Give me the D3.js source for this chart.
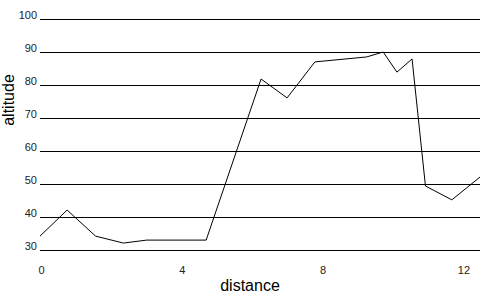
<!DOCTYPE html>
<html>
<head>
<meta charset="utf-8">
<script src="https://cdn.jsdelivr.net/npm/d3@7"></script>
<style>
  body { margin: 0; background: #fff; }
  svg { display: block; font-family: 'Liberation Sans', Arial, sans-serif; }
  .tick text { fill: #222; font-size: 11px; }
  .line { fill: none; stroke: #000; stroke-width: 1; }
</style>
</head>
<body>
<script>
// values
var distance = [0, 0.77, 1.58, 2.37, 3.03, 4.72, 6.28, 7.02, 7.81, 9.28, 9.75, 10.14, 10.57, 10.95, 11.7, 12.5]
var altitude = [34.2, 42.1, 34.2, 32.1, 33, 33, 81.8, 76.1, 87, 88.5, 90, 83.9, 87.9, 49.4, 45.2, 52.1]
var xTicks = [0, 4, 8, 12]
var yTicks = [30, 40, 50, 60, 70, 80, 90, 100]

var width = 500, height = 300

var data = distance.map((d, i) => ({ distance: d, altitude: altitude[i] }))

// scales
var x = d3.scaleLinear().domain([0, 12.5]).range([40, 480])
var y = d3.scaleLinear().domain([30, 100]).range([250, 19])

var svg = d3.select('body').append('svg')
    .attr('width', width)
    .attr('height', height)

// horizontal grid + y labels
svg.append('g')
    .attr('transform', 'translate(40,0)')
    .call(d3.axisLeft(y).tickValues(yTicks).tickSize(-440).tickPadding(3))
    .call(g => g.select('.domain').remove())
    .call(g => g.selectAll('.tick line').attr('stroke', '#000').attr('shape-rendering', 'crispEdges'))
    .call(g => g.selectAll('.tick text').attr('dy', '-0.05em'))

// x labels, no axis line
svg.append('g')
    .attr('transform', 'translate(0,250)')
    .call(d3.axisBottom(x).tickValues(xTicks).tickSize(0).tickPadding(16))
    .call(g => g.select('.domain').remove())
    .call(g => g.selectAll('.tick text').attr('dx', '1'))

// the line
var valueline = d3.line()
    .x(d => x(d.distance))
    .y(d => y(d.altitude))

svg.append('path')
    .data([data])
    .attr('class', 'line')
    .attr('d', valueline)

// axis titles
svg.append('text')
    .attr('x', 250)
    .attr('y', 291)
    .attr('text-anchor', 'middle')
    .attr('font-size', 16)
    .text('distance')

svg.append('text')
    .attr('transform', 'translate(14,100) rotate(-90)')
    .attr('text-anchor', 'middle')
    .attr('font-size', 16)
    .text('altitude')
</script>
</body>
</html>
